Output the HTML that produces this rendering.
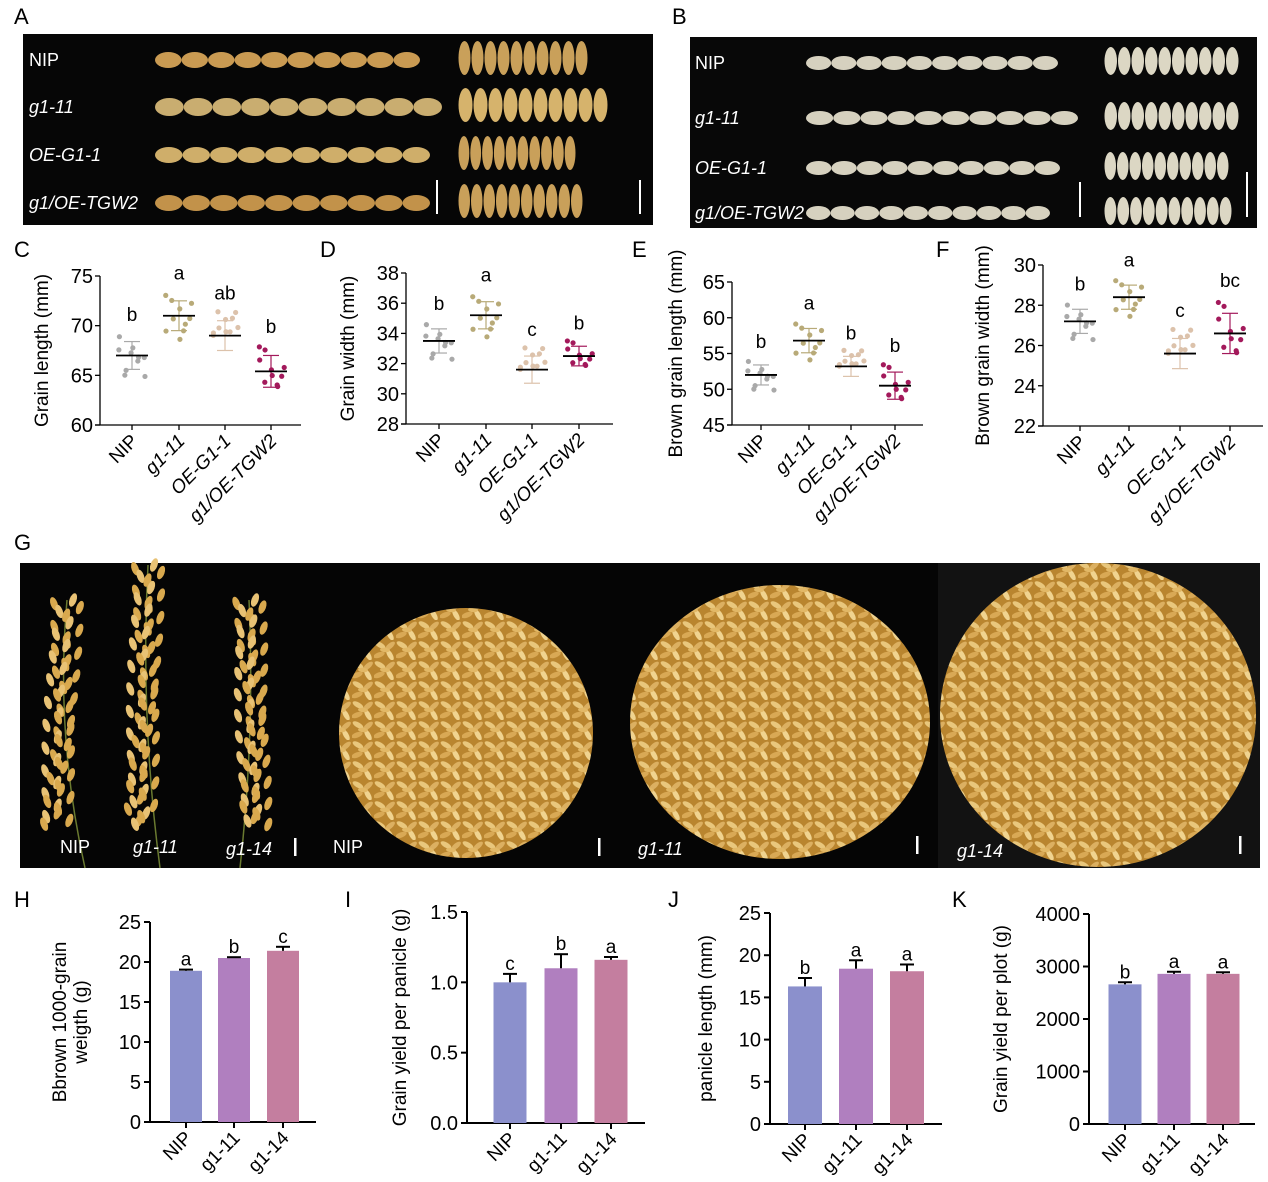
<!DOCTYPE html>
<html><head><meta charset="utf-8"><style>
html,body{margin:0;padding:0;background:#fff;}
svg{display:block;font-family:"Liberation Sans",Arial,sans-serif;}
</style></head><body>
<svg id="s" width="1268" height="1182" viewBox="0 0 1268 1182" xmlns="http://www.w3.org/2000/svg">
<defs>
<pattern id="gr" width="22" height="20" patternUnits="userSpaceOnUse">
<rect width="22" height="20" fill="#b9852f"/>
<ellipse cx="6" cy="5" rx="6" ry="2.6" fill="#e9c77c" transform="rotate(30 6 5)"/>
<ellipse cx="16" cy="6" rx="6" ry="2.6" fill="#dcb061" transform="rotate(-40 16 6)"/>
<ellipse cx="5" cy="15" rx="6" ry="2.6" fill="#d9a955" transform="rotate(-20 5 15)"/>
<ellipse cx="16" cy="15" rx="6" ry="2.6" fill="#f0d38f" transform="rotate(60 16 15)"/>
<ellipse cx="11" cy="10" rx="5" ry="2.2" fill="#e2b866" transform="rotate(5 11 10)"/>
</pattern>
</defs>
</svg>
<script>
const S=document.getElementById('s');const NS='http://www.w3.org/2000/svg';
function el(t,a,txt){const e=document.createElementNS(NS,t);for(const k in a)e.setAttribute(k,a[k]);if(txt!==undefined)e.textContent=txt;S.appendChild(e);return e;}
function tx(x,y,s,o){o=o||{};return el('text',Object.assign({x:x,y:y,'font-size':o.fs||17,'text-anchor':o.a||'start',fill:o.f||'#000'},o.extra||{}),s);}
[['A',14,24],['B',672,24],['C',14,257],['D',320,257],['E',632,257],['F',936,257],['G',14,550],['H',14,907],['I',345,907],['J',668,907],['K',952,907]].forEach(p=>tx(p[1],p[2],p[0],{fs:22}));
// Panel A
el('rect',{x:23,y:34,width:630,height:191,fill:'#060606'});
const rowsA=[[60,'NIP',155,420,'#c99a52'],[107,'g1-11',155,442,'#c9ad70'],[155,'OE-G1-1',155,430,'#cfae6a'],[203,'g1/OE-TGW2',155,430,'#c2924a']];
rowsA.forEach((r,i)=>{tx(29,r[0]+6,r[1],{fs:18,f:'#fff',extra:i?{'font-style':'italic'}:{}});
 const n=10,w=(r[3]-r[2])/n;for(let k=0;k<n;k++)el('ellipse',{cx:r[2]+w*(k+.5),cy:r[0],rx:w/2,ry:i==1?9:8,fill:r[4]});
 const rx0=458,rw=i==1?150:(i==2?118:(i==3?125:130));for(let k=0;k<10;k++)el('ellipse',{cx:rx0+rw/10*(k+.5),cy:r[0]-2,rx:rw/20-0.5,ry:17,fill:i==1?'#d6b36c':'#c9a05a'});});
el('rect',{x:436,y:180,width:2,height:34,fill:'#fff'});el('rect',{x:639,y:180,width:2,height:34,fill:'#fff'});
// Panel B
el('rect',{x:690,y:37,width:567,height:191,fill:'#080808'});
const rowsB=[[63,'NIP',806,1058],[118,'g1-11',806,1078],[168,'OE-G1-1',806,1060],[213,'g1/OE-TGW2',806,1050]];
rowsB.forEach((r,i)=>{tx(695,r[0]+6,r[1],{fs:18,f:'#fff',extra:i?{'font-style':'italic'}:{}});
 const w=(r[3]-r[2])/10;for(let k=0;k<10;k++)el('ellipse',{cx:r[2]+w*(k+.5),cy:r[0],rx:w/2,ry:7,fill:'#d6d1bf'});
 const rw=i==3?128:(i==2?125:135);for(let k=0;k<10;k++)el('ellipse',{cx:1104+rw/10*(k+.5),cy:r[0]-2,rx:rw/20-0.5,ry:14,fill:'#dcd7c4'});});
el('rect',{x:1079,y:182,width:2,height:35,fill:'#fff'});el('rect',{x:1246,y:172,width:2,height:45,fill:'#fff'});
// Panel G
el('rect',{x:20,y:563,width:1240,height:305,fill:'#050505'});
el('rect',{x:938,y:563,width:322,height:305,fill:'#121212'});
function panicle(x0,yb,yt,bend,n){el('path',{d:`M${x0} ${yb} Q${x0+bend} ${(yb+yt)/2} ${x0+bend*0.6} ${yt}`,stroke:'#6a7a30','stroke-width':1.5,fill:'none'});
 for(let k=0;k<n;k++){const t=k/n;const y=yt+(yb-yt-40)*t;const x=x0+bend*0.6+(bend*0.4)*t+ (k%2?-1:1)*(6+8*Math.sin(k));el('ellipse',{cx:x,cy:y,rx:3.5,ry:7,fill:k%3?'#d9a94e':'#e8c275',transform:`rotate(${k%2?-20:20} ${x} ${y})`});}}
panicle(85,868,600,-30,60);panicle(160,868,565,-20,70);panicle(240,868,600,15,65);
[['NIP',60,853,false],['g1-11',133,853,true],['g1-14',226,855,true],['NIP',333,853,false],['g1-11',638,855,true],['g1-14',957,857,true]].forEach(l=>tx(l[1],l[2],l[0],{fs:18,f:'#fff',extra:l[3]?{'font-style':'italic'}:{}}));
el('ellipse',{cx:466,cy:733,rx:127,ry:125,fill:'url(#gr)'});
el('ellipse',{cx:780,cy:722,rx:150,ry:137,fill:'url(#gr)'});
el('ellipse',{cx:1098,cy:715,rx:158,ry:152,fill:'url(#gr)'});
[[294,838],[598,838],[916,836],[1239,836]].forEach(b=>el('rect',{x:b[0],y:b[1],width:2.5,height:18,fill:'#fff'}));
function seeded(i){return Math.sin(i*12.9898)*43758.5453%1;}
const cols=['#a9a9a9','#b8aa78','#dcc2ab','#a3195b'];
const labs=['NIP','g1-11','OE-G1-1','g1/OE-TGW2'];
function scatter(c){const {ax,top,bot,vmin,vmax,step,ticks,end,title,means,sds,letters}=c;
 const Y=v=>bot-(v-vmin)/(vmax-vmin)*(bot-top);
 el('line',{x1:ax,y1:top,x2:ax,y2:bot,stroke:'#000','stroke-width':1.3});
 el('line',{x1:ax-5,y1:bot,x2:end,y2:bot,stroke:'#000','stroke-width':1.3});
 for(let v=vmin;v<=vmax+1e-9;v+=step){el('line',{x1:ax-5,y1:Y(v),x2:ax,y2:Y(v),stroke:'#000','stroke-width':1.3});tx(ax-7,Y(v)+7,String(v),{fs:20,a:'end'});}
 const tt=tx(0,0,title,{fs:19,a:'middle'});tt.setAttribute('transform',`translate(${ax-c.tOff},${(top+bot)/2}) rotate(-90)`);
 ticks.forEach((x,i)=>{el('line',{x1:x,y1:bot,x2:x,y2:bot+5,stroke:'#000','stroke-width':1.3});
  const t=tx(0,0,labs[i],{fs:19,a:'end',extra:i?{'font-style':'italic'}:{}});t.setAttribute('transform',`translate(${x+7},${bot+17}) rotate(-45)`);
  const m=means[i],s=sds[i];
  for(let k=0;k<10;k++){const r1=Math.abs(seeded(i*10+k+1)),r2=Math.abs(seeded(i*10+k+50));const v=m+(r1*2-1)*s*1.6;const xx=x-12+ (k%5)*6+(r2-.5)*3;el('circle',{cx:xx,cy:Y(v),r:2.6,fill:cols[i]});}
  el('line',{x1:x,y1:Y(m+s),x2:x,y2:Y(m-s),stroke:cols[i],'stroke-width':1.2});
  el('line',{x1:x-8,y1:Y(m+s),x2:x+8,y2:Y(m+s),stroke:cols[i],'stroke-width':1.2});
  el('line',{x1:x-8,y1:Y(m-s),x2:x+8,y2:Y(m-s),stroke:cols[i],'stroke-width':1.2});
  el('line',{x1:x-16,y1:Y(m),x2:x+16,y2:Y(m),stroke:'#000','stroke-width':1.8});
  tx(x,Y(m+s*1.9)-8,letters[i],{fs:19,a:'middle'});});}
scatter({ax:100,top:276,bot:425,vmin:60,vmax:75,step:5,ticks:[132,179,225,271],end:301,title:'Grain length (mm)',tOff:52,means:[67,71,69,65.4],sds:[1.4,1.5,1.5,1.6],letters:['b','a','ab','b']});
scatter({ax:406,top:273,bot:424,vmin:28,vmax:38,step:2,ticks:[439,486,532,579],end:613,title:'Grain width (mm)',tOff:52,means:[33.5,35.2,31.6,32.5],sds:[0.8,0.9,0.9,0.65],letters:['b','a','c','b']});
scatter({ax:732,top:282,bot:425,vmin:45,vmax:65,step:5,ticks:[761,809,851,895],end:923,title:'Brown grain length (mm)',tOff:50,means:[52,56.8,53.2,50.5],sds:[1.4,1.7,1.4,1.9],letters:['b','a','b','b']});
scatter({ax:1043,top:265,bot:426,vmin:22,vmax:30,step:2,ticks:[1080,1129,1180,1230],end:1263,title:'Brown grain width (mm)',tOff:54,means:[27.2,28.4,25.6,26.6],sds:[0.6,0.6,0.75,1.0],letters:['b','a','c','bc']});
const bcols=['#8b90cc','#b07fbf','#c47e9f'];const blabs=['NIP','g1-11','g1-14'];
function bars(c){const {ax,top,bot,vmax,step,ticks,end,title,means,errs,letters,bw}=c;
 const Y=v=>bot-v/vmax*(bot-top);
 el('line',{x1:ax,y1:top,x2:ax,y2:bot,stroke:'#000','stroke-width':2});
 el('line',{x1:ax-6,y1:bot,x2:end,y2:bot,stroke:'#000','stroke-width':2});
 for(let v=0;v<=vmax+1e-9;v+=step){el('line',{x1:ax-6,y1:Y(v),x2:ax,y2:Y(v),stroke:'#000','stroke-width':2});tx(ax-9,Y(v)+7,c.fmt?c.fmt(v):String(v),{fs:20,a:'end'});}
 if(Array.isArray(title)){title.forEach((t,j)=>{const e=tx(0,0,t,{fs:19,a:'middle'});e.setAttribute('transform',`translate(${ax-c.tOff+j*21},${(top+bot)/2}) rotate(-90)`);});}
 else{const e=tx(0,0,title,{fs:19,a:'middle'});e.setAttribute('transform',`translate(${ax-c.tOff},${(top+bot)/2}) rotate(-90)`);}
 ticks.forEach((x,i)=>{el('rect',{x:x-bw/2,y:Y(means[i]),width:bw,height:bot-Y(means[i]),fill:bcols[i]});
  const ye=Y(means[i]+errs[i]);el('line',{x1:x,y1:Y(means[i]),x2:x,y2:ye,stroke:'#000','stroke-width':2});el('line',{x1:x-7,y1:ye,x2:x+7,y2:ye,stroke:'#000','stroke-width':2});
  el('line',{x1:x,y1:bot,x2:x,y2:bot+6,stroke:'#000','stroke-width':2});
  tx(x,ye-4,letters[i],{fs:19,a:'middle'});
  const t=tx(0,0,blabs[i],{fs:19,a:'end'});t.setAttribute('transform',`translate(${x+7},${bot+17}) rotate(-45)`);});}
bars({ax:150,top:922,bot:1122,vmax:25,step:5,ticks:[186,234,283],end:316,title:['Bbrown 1000-grain','weigth (g)'],tOff:84,means:[18.9,20.5,21.4],errs:[0.15,0.1,0.5],letters:['a','b','c'],bw:32});
bars({ax:467,top:912,bot:1123,vmax:1.5,step:0.5,ticks:[510,561,611],end:645,title:'Grain yield per panicle (g)',tOff:61,means:[1.0,1.1,1.16],errs:[0.06,0.1,0.02],letters:['c','b','a'],bw:33,fmt:v=>v.toFixed(1)});
bars({ax:770,top:913,bot:1124,vmax:25,step:5,ticks:[805,856,907],end:942,title:'panicle length (mm)',tOff:58,means:[16.3,18.4,18.1],errs:[1.0,1.0,0.8],letters:['b','a','a'],bw:34});
bars({ax:1089,top:914,bot:1124,vmax:4000,step:1000,ticks:[1125,1174,1223],end:1255,title:'Grain yield per plot (g)',tOff:82,means:[2660,2860,2860],errs:[40,40,30],letters:['b','a','a'],bw:33});
</script>
</body></html>
